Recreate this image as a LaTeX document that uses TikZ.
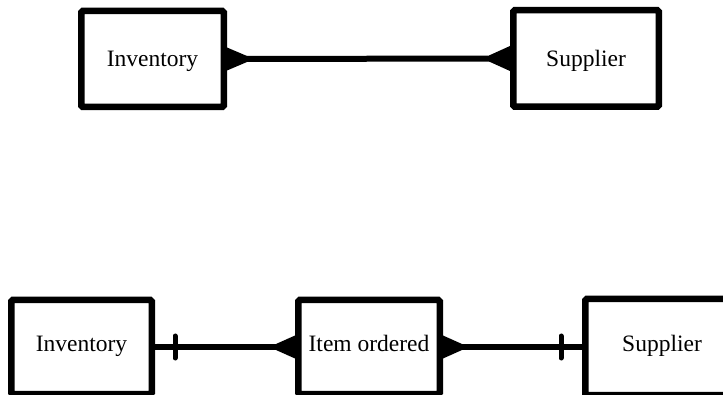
\documentclass[tikz,border=0pt]{standalone}
\usepackage{fontspec}
\setmainfont{Liberation Serif}
\usetikzlibrary{calc}
\begin{document}
\begin{tikzpicture}[x=1pt,y=-1pt,
  entity/.style={draw, line width=6.5pt, rounded corners=1.5pt, inner sep=0pt,
    font=\fontsize{23.5}{28}\selectfont, fill=white, text height=16pt, text depth=6pt},
  toprow/.style={text height=19pt, text depth=3pt},
  rel/.style={line width=6pt},
  crow/.style={fill=black},
  bar/.style={line width=5pt, line cap=round}]
\useasboundingbox (0,0) rectangle (723,395);
\clip (0,0) rectangle (723,395);
% top row
\node[entity, toprow, minimum width=142.5pt, minimum height=96pt] (inv1) at (152.5,59) {Inventory};
\node[entity, toprow, minimum width=145.5pt, minimum height=96.5pt] (sup1) at (586,58.5) {Supplier};
\draw[rel] (inv1.east) -- (sup1.west);
\fill[crow] ($(inv1.east)+(0,-11.5)$) -- ($(inv1.east)+(20,-3)$) -- ($(inv1.east)+(20,3)$) -- ($(inv1.east)+(0,11.5)$) -- cycle;
\fill[crow] ($(sup1.west)+(0,-12.5)$) -- ($(sup1.west)+(-21,-3)$) -- ($(sup1.west)+(-21,3)$) -- ($(sup1.west)+(0,12.5)$) -- cycle;
% bottom row
\node[entity, minimum width=140.5pt, minimum height=94pt] (inv2) at (81.5,347) {Inventory};
\node[entity, minimum width=141.5pt, minimum height=94pt] (item) at (369,347) {Item ordered};
\node[entity, minimum width=153.5pt, minimum height=96pt] (sup2) at (662,347) {Supplier};
\draw[rel] (inv2.east) -- (item.west);
\draw[rel] (item.east) -- (sup2.west);
\coordinate (b1) at ($(inv2.east)+(20,0)$);
\coordinate (b2) at ($(sup2.west)+(-21,0)$);
\draw[bar] ($(b1)+(0,-11)$) -- ($(b1)+(0,11)$);
\draw[bar] ($(b2)+(0,-11)$) -- ($(b2)+(0,11)$);
\fill[crow] ($(item.west)+(0,-11.5)$) -- ($(item.west)+(-19,-3)$) -- ($(item.west)+(-19,3)$) -- ($(item.west)+(0,11.5)$) -- cycle;
\fill[crow] ($(item.east)+(0,-11.5)$) -- ($(item.east)+(19,-3)$) -- ($(item.east)+(19,3)$) -- ($(item.east)+(0,11.5)$) -- cycle;
\end{tikzpicture}
\end{document}
